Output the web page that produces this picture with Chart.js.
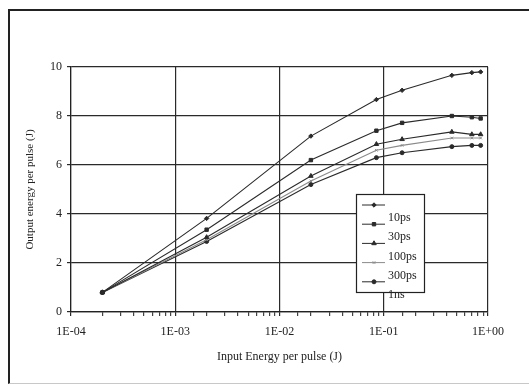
<!DOCTYPE html>
<html>
<head>
<meta charset="utf-8">
<script src="https://cdn.jsdelivr.net/npm/chart.js@4/dist/chart.umd.min.js"></script>
<style>
  html, body { margin: 0; padding: 0; background: #fff; }
  #wrap { position: relative; width: 529px; height: 387px; overflow: hidden; }
  #frame {
    position: absolute; left: 8px; top: 9px; width: 540px; height: 372px;
    border-left: 2px solid #222; border-top: 2px solid #222; border-bottom: 1px solid #c8c8c8;
  }
  #chart { position: absolute; left: 0; top: 0; }
</style>
</head>
<body>
<div id="wrap">
  <div id="frame"></div>
  <canvas id="chart" width="529" height="387"></canvas>
</div>
<script>
// Input energy per pulse (J), shared by every curve
const inputEnergy = [2e-4, 2e-3, 2e-2, 8.5e-2, 0.15, 0.45, 0.7, 0.85];

// Output energy per pulse (J) for each pulse length
const out10ps  = [0.8, 3.82, 7.18, 8.67, 9.05, 9.66, 9.77, 9.80];
const out30ps  = [0.8, 3.36, 6.20, 7.40, 7.72, 8.00, 7.95, 7.90];
const out100ps = [0.8, 3.05, 5.55, 6.85, 7.05, 7.35, 7.25, 7.25];
const out300ps = [0.8, 2.95, 5.35, 6.60, 6.80, 7.10, 7.10, 7.10];
const out1ns   = [0.8, 2.88, 5.20, 6.30, 6.50, 6.75, 6.80, 6.80];

const seriesNames = ['10ps', '30ps', '100ps', '300ps', '1ns'];
const yTicks = [0, 2, 4, 6, 8, 10];

const FONT = 'Liberation Serif, Times New Roman, serif';

function toPoints(ys) {
  return ys.map((y, i) => ({ x: inputEnergy[i], y: y }));
}

function isDecade(v) {
  const l = Math.log10(v);
  return Math.abs(l - Math.round(l)) < 1e-6;
}

function fmtExp(v) {
  const e = Math.round(Math.log10(v));
  return '1E' + (e < 0 ? '-' : '+') + String(Math.abs(e)).padStart(2, '0');
}

const styles = [
  { color: '#2a2a2a', point: 'rectRot',  r: 2.2 },
  { color: '#2a2a2a', point: 'rect',     r: 2.4 },
  { color: '#2a2a2a', point: 'triangle', r: 2.6 },
  { color: '#8a8a8a', point: 'crossRot', r: 1.8 },
  { color: '#2a2a2a', point: 'circle',   r: 2 }
];

const datasets = [out10ps, out30ps, out100ps, out300ps, out1ns].map((ys, i) => ({
  label: seriesNames[i],
  data: toPoints(ys),
  borderColor: styles[i].color,
  backgroundColor: styles[i].color,
  borderWidth: 1.1,
  pointStyle: styles[i].point,
  pointRadius: styles[i].r,
  pointBorderWidth: 1,
  tension: 0
}));

// boxed legend with the labels sitting below each sample line
const boxLegend = {
  id: 'boxLegend',
  afterDatasetsDraw(chart) {
    const ctx = chart.ctx;
    const bx = 356, by = 194, bw = 68, bh = 98;
    ctx.save();
    ctx.fillStyle = '#fff';
    ctx.fillRect(bx, by, bw, bh);
    chart.data.datasets.forEach((ds, i) => {
      const y = by + 11 + i * 19.2;
      ctx.strokeStyle = ds.borderColor;
      ctx.lineWidth = 1;
      ctx.beginPath();
      ctx.moveTo(bx + 6, y);
      ctx.lineTo(bx + 29, y);
      ctx.stroke();
      ctx.fillStyle = ds.backgroundColor;
      Chart.helpers.drawPoint(ctx, {
        pointStyle: ds.pointStyle, radius: ds.pointRadius, borderWidth: 1, rotation: 0
      }, bx + 18, y);
      ctx.fillStyle = '#222';
      ctx.font = '12px ' + FONT;
      ctx.textBaseline = 'middle';
      ctx.fillText(ds.label, bx + 32, y + 13);
    });
    ctx.strokeStyle = '#222';
    ctx.lineWidth = 1.2;
    ctx.strokeRect(bx + 0.5, by + 0.5, bw, bh);
    ctx.restore();
  }
};

new Chart(document.getElementById('chart'), {
  type: 'line',
  data: { datasets },
  plugins: [boxLegend],
  options: {
    responsive: false,
    animation: false,
    layout: { padding: { left: 10, top: 67, right: 41, bottom: 0 } },
    plugins: { legend: { display: false }, tooltip: { enabled: false } },
    scales: {
      x: {
        type: 'logarithmic',
        min: 1e-4,
        max: 1,
        afterFit: s => { s.height = 75; },
        border: { display: true, color: '#222', width: 1.2 },
        grid: {
          color: c => (c.tick && isDecade(c.tick.value)) ? '#2a2a2a' : 'rgba(0,0,0,0)',
          lineWidth: 1.2,
          tickColor: c => (c.tick && isDecade(c.tick.value)) ? '#2a2a2a' : '#444',
          tickLength: 4
        },
        ticks: {
          autoSkip: false,
          maxRotation: 0,
          padding: 9,
          color: '#222',
          font: { family: FONT, size: 12 },
          callback: v => isDecade(v) ? fmtExp(v) : ''
        },
        title: {
          display: true,
          text: 'Input Energy per pulse (J)',
          color: '#222',
          font: { family: FONT, size: 12 },
          padding: { top: 0, bottom: 23 }
        }
      },
      y: {
        min: 0,
        max: 10,
        afterFit: s => { s.width = 61; },
        afterBuildTicks: s => { s.ticks = yTicks.map(v => ({ value: v })); },
        border: { display: true, color: '#222', width: 1.2 },
        grid: { color: '#2a2a2a', lineWidth: 1.2, tickLength: 4 },
        ticks: {
          padding: 5,
          color: '#222',
          font: { family: FONT, size: 12 }
        },
        title: {
          display: true,
          text: 'Output energy per pulse (J)',
          color: '#222',
          font: { family: FONT, size: 11 },
          padding: { top: 14, bottom: 0 }
        }
      }
    }
  }
});
</script>
</body>
</html>
